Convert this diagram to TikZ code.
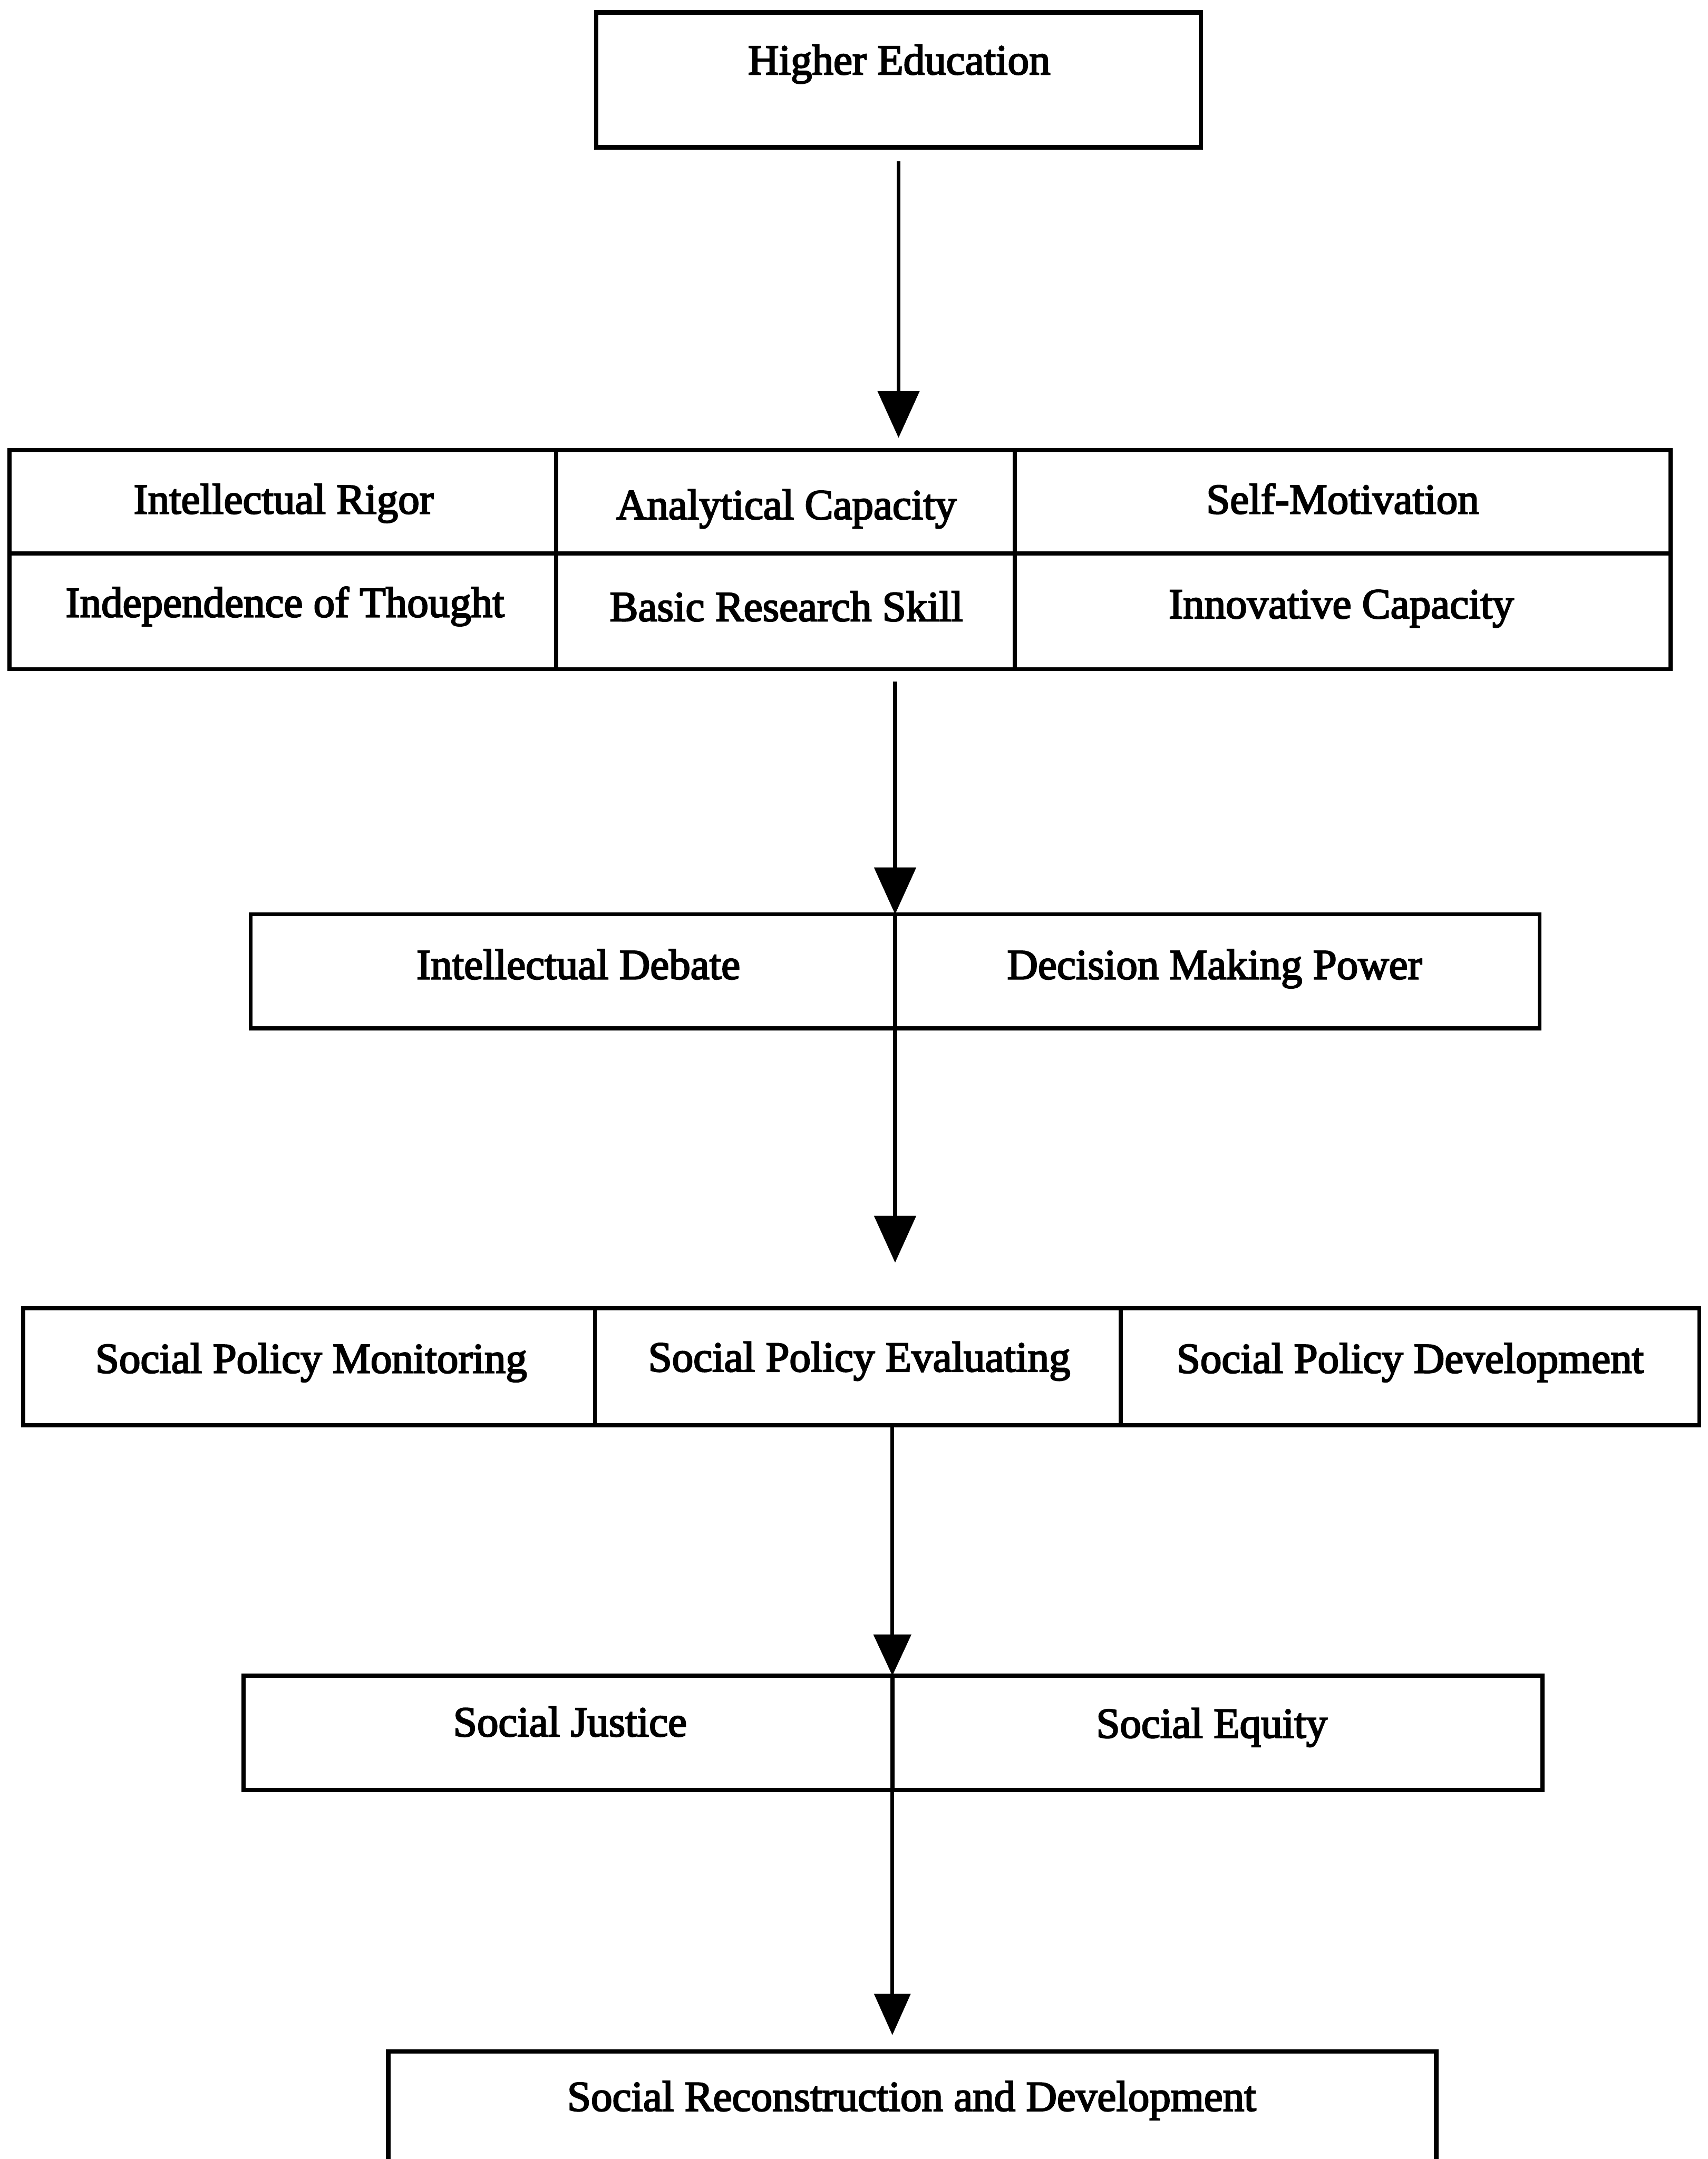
\documentclass[tikz,border=0pt]{standalone}
\usepackage{fontspec}
\setmainfont{Liberation Serif}[RawFeature={embolden=3}]
\usetikzlibrary{arrows.meta}
\begin{document}
\begin{tikzpicture}[x=1pt,y=-1pt,
  box/.style={draw, line width=3.2pt, inner sep=0pt, outer sep=0pt, anchor=north west},
  cell/.style={draw, line width=3pt, inner sep=0pt, outer sep=0pt, anchor=north west},
  lbl/.style={anchor=base, inner sep=0pt, font=\fontsize{31}{37}\selectfont},
  flow/.style={line width=2.8pt, -{Triangle[length=34pt,width=30pt]}},
]
\useasboundingbox (0,0) rectangle (1240,1568);
\clip (0,0) rectangle (1240,1568);

% top box
\node[box, minimum width=439pt, minimum height=98pt] (he) at (433,9) {};
\node[lbl] (het) at (653,54) {Higher Education};

% grid of six cells
\node[cell, minimum width=397pt, minimum height=75pt] (c11) at (7,327) {};
\node[cell, minimum width=333pt, minimum height=75pt] (c12) at (404,327) {};
\node[cell, minimum width=476pt, minimum height=75pt] (c13) at (737,327) {};
\node[cell, minimum width=397pt, minimum height=84pt] (c21) at (7,402) {};
\node[cell, minimum width=333pt, minimum height=84pt] (c22) at (404,402) {};
\node[cell, minimum width=476pt, minimum height=84pt] (c23) at (737,402) {};
\node[lbl] (c11t) at (206,373) {Intellectual Rigor};
\node[lbl] (c12t) at (571,377) {Analytical Capacity};
\node[lbl] (c13t) at (975,373) {Self-Motivation};
\node[lbl] (c21t) at (207,448) {Independence of Thought};
\node[lbl] (c22t) at (571,451) {Basic Research Skill};
\node[lbl] (c23t) at (974,449) {Innovative Capacity};

% box 3
\node[cell, minimum width=468pt, minimum height=83pt] (d1) at (182,664) {};
\node[cell, minimum width=468pt, minimum height=83pt] (d2) at (650,664) {};
\node[lbl] (d1t) at (420,711) {Intellectual Debate};
\node[lbl] (d2t) at (882,711) {Decision Making Power};

% box 4
\node[cell, minimum width=415pt, minimum height=85pt] (e1) at (17,950) {};
\node[cell, minimum width=382pt, minimum height=85pt] (e2) at (432,950) {};
\node[cell, minimum width=420pt, minimum height=85pt] (e3) at (814,950) {};
\node[lbl] (e1t) at (226,997) {Social Policy Monitoring};
\node[lbl] (e2t) at (624,996) {Social Policy Evaluating};
\node[lbl] (e3t) at (1024,997) {Social Policy Development};

% box 5
\node[cell, minimum width=471pt, minimum height=83pt] (f1) at (177,1217) {};
\node[cell, minimum width=472pt, minimum height=83pt] (f2) at (648,1217) {};
\node[lbl] (f1t) at (414,1261) {Social Justice};
\node[lbl] (f2t) at (880,1262) {Social Equity};

% bottom box
\node[box, minimum width=761pt, minimum height=120pt] (g) at (282,1490) {};
\node[lbl] (gt) at (662,1533) {Social Reconstruction and Development};

% arrows
\draw[flow, shorten <=10pt, shorten >=9pt] (he.south) -- (he.south |- c12.north);
\draw[flow, shorten <=9pt] (d1.north east |- c22.south) -- (d1.north east);
\draw[flow, shorten >=33pt] (d1.south east) -- (d1.south east |- e2.north);
\draw[flow, -{Triangle[length=30pt,width=27pt]}] (f1.north east |- e2.south) -- (f1.north east);
\draw[flow, -{Triangle[length=30pt,width=26pt]}, shorten >=12pt] (f1.south east) -- (f1.south east |- g.north);
\end{tikzpicture}
\end{document}
